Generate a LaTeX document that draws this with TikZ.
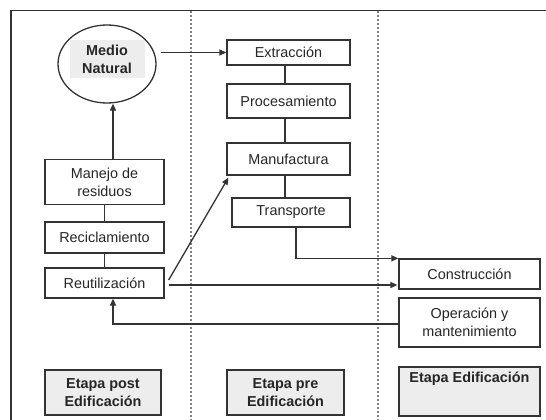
\documentclass[tikz,border=0pt]{standalone}
\usepackage{fontspec}
\setmainfont{Liberation Sans}
\usetikzlibrary{arrows.meta,shapes.geometric}
\definecolor{ln}{HTML}{333333}
\definecolor{tx}{HTML}{262626}
\definecolor{bg}{HTML}{EDEDED}
\tikzset{
  every node/.style={font=\fontsize{14.4}{18}\selectfont, text=tx},
  box/.style={draw=ln, line width=1.3pt, rectangle, inner sep=0pt, align=center, fill=white},
  stage/.style={box, fill=bg, font=\fontsize{14.4}{18}\selectfont\bfseries},
  conn/.style={draw=ln, line width=1.3pt},
  arr/.style={conn, -{Triangle[length=7pt,width=6pt]}},
  sep/.style={draw=gray, line width=1.1pt, dash pattern=on 2pt off 2pt}
}
\begin{document}
\begin{tikzpicture}[x=1pt,y=-1pt]
\useasboundingbox (0,0) rectangle (546,420);
\fill[white] (0,0) rectangle (546,420);
% frame
\draw[conn] (11,420) -- (11,10.5) -- (546,10.5);
% separators
\draw[sep] (191,11) -- (191,420);
\draw[sep] (378,11) -- (378,420);
% Medio natural
\node[draw=ln, line width=1.3pt, ellipse, minimum width=98pt, minimum height=78pt, inner sep=0pt] (medio) at (107,64) {};
\node[fill=bg, minimum width=75pt, minimum height=38pt, align=center, inner sep=0pt, font=\fontsize{14.4}{18}\selectfont\bfseries] (mtext) at (107,59) {Medio\\Natural};
% pre edificacion chain
\node[box, minimum width=123pt, minimum height=25pt] (extr) at (288.5,52.5) {Extracción};
\node[box, minimum width=123pt, minimum height=34pt] (proc) at (288.5,101) {Procesamiento};
\node[box, minimum width=123pt, minimum height=32pt] (manuf) at (288.5,159) {Manufactura};
\node[box, minimum width=118pt, minimum height=29pt] (transp) at (291,212.5) {Transporte};
% post edificacion chain
\node[box, minimum width=119pt, minimum height=45pt] (manejo) at (104.5,182) {Manejo de\\residuos};
\node[box, minimum width=119pt, minimum height=31pt] (recic) at (104.5,237.5) {Reciclamiento};
\node[box, minimum width=119pt, minimum height=30pt] (reut) at (104.5,283) {Reutilización};
% edificacion
\node[box, minimum width=141pt, minimum height=30pt] (constr) at (469.5,274) {Construcción};
\node[box, minimum width=141pt, minimum height=49pt] (oper) at (469.5,322.5) {Operación y\\mantenimiento};
% stage labels
\node[stage, minimum width=116pt, minimum height=45pt] (post) at (103,392.5) {Etapa post\\Edificación};
\node[stage, minimum width=117pt, minimum height=45pt] (pre) at (285.5,392.5) {Etapa pre\\Edificación};
\node[stage, minimum width=141pt, minimum height=49pt, text depth=29pt, text height=11pt] (edif) at (469.5,391.5) {Etapa Edificación};
% connectors
\draw[arr] ([xshift=4pt]medio.east |- extr.west) -- (extr.west);
\draw[conn] ([xshift=-3.5pt]extr.south) -- ([xshift=-3.5pt]extr.south |- proc.north);
\draw[conn] ([xshift=-3.5pt]proc.south) -- ([xshift=-3.5pt]proc.south |- manuf.north);
\draw[conn] ([xshift=-3.5pt]manuf.south) -- ([xshift=-3.5pt]manuf.south |- transp.north);
\draw[arr] ([xshift=8.5pt]manejo.north) -- ([xshift=8.5pt]manejo.north |- medio.south);
\draw[conn] (manejo.south) -- (recic.north);
\draw[conn] (recic.south) -- (reut.north);
\draw[arr] ([xshift=4pt,yshift=3pt]reut.east) -- ([xshift=2pt,yshift=-2pt]manuf.south west);
\draw[arr] ([xshift=4pt,yshift=-2pt]reut.east) -- ([xshift=-1pt,yshift=-2pt]reut.east -| constr.west);
\draw[arr] ([xshift=5pt]transp.south) |- (constr.north west);
\draw[arr] ([yshift=-1.5pt]oper.west) -| ([xshift=8.5pt]reut.south);
\end{tikzpicture}
\end{document}
